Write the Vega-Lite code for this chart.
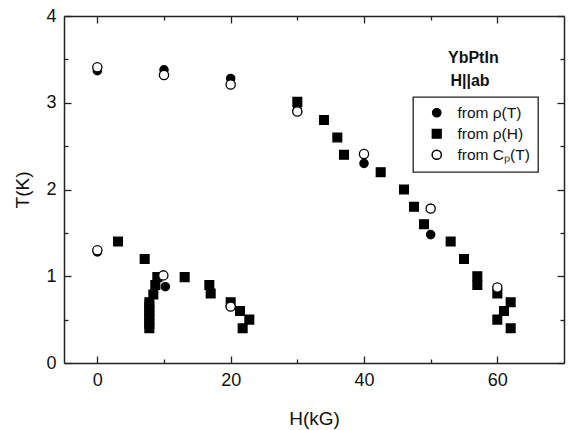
{
  "$schema": "https://vega.github.io/schema/vega-lite/v6.json",
  "width": 500,
  "height": 347,
  "autosize": {"type": "none"},
  "padding": {"left": 64, "top": 16, "right": 10, "bottom": 67},
  "background": "white",
  "config": {
    "view": {"stroke": null},
    "axis": {
      "domainColor": "#222", "domainWidth": 1.5,
      "tickColor": "#222", "tickWidth": 1.3,
      "labelFont": "Liberation Sans", "labelFontSize": 18, "labelColor": "#111",
      "titleFont": "Liberation Sans", "titleFontSize": 19, "titleFontWeight": "normal", "titleColor": "#111",
      "grid": false
    },
    "legend": {
      "strokeColor": "#222", "strokeWidth": 1.3, "fillColor": "white", "padding": 8, "cornerRadius": 0,
      "labelFont": "Liberation Sans", "labelFontSize": 15.5, "labelColor": "#111",
      "rowPadding": 4, "labelOffset": 13, "symbolOffset": 8
    }
  },
  "layer": [
    {
      "data": {"values": [
        {"H": 3.1, "T": 1.40, "s": "from ρ(H)"},
        {"H": 7.1, "T": 1.20, "s": "from ρ(H)"},
        {"H": 7.8, "T": 0.40, "s": "from ρ(H)"},
        {"H": 7.8, "T": 0.45, "s": "from ρ(H)"},
        {"H": 7.8, "T": 0.50, "s": "from ρ(H)"},
        {"H": 7.8, "T": 0.55, "s": "from ρ(H)"},
        {"H": 7.8, "T": 0.60, "s": "from ρ(H)"},
        {"H": 7.8, "T": 0.65, "s": "from ρ(H)"},
        {"H": 7.8, "T": 0.70, "s": "from ρ(H)"},
        {"H": 8.4, "T": 0.79, "s": "from ρ(H)"},
        {"H": 8.7, "T": 0.90, "s": "from ρ(H)"},
        {"H": 9.0, "T": 0.99, "s": "from ρ(H)"},
        {"H": 13.1, "T": 0.99, "s": "from ρ(H)"},
        {"H": 16.8, "T": 0.90, "s": "from ρ(H)"},
        {"H": 17.0, "T": 0.80, "s": "from ρ(H)"},
        {"H": 20.0, "T": 0.70, "s": "from ρ(H)"},
        {"H": 21.4, "T": 0.60, "s": "from ρ(H)"},
        {"H": 22.8, "T": 0.50, "s": "from ρ(H)"},
        {"H": 21.8, "T": 0.40, "s": "from ρ(H)"},
        {"H": 30.0, "T": 3.01, "s": "from ρ(H)"},
        {"H": 34.0, "T": 2.80, "s": "from ρ(H)"},
        {"H": 36.0, "T": 2.60, "s": "from ρ(H)"},
        {"H": 37.0, "T": 2.40, "s": "from ρ(H)"},
        {"H": 42.5, "T": 2.20, "s": "from ρ(H)"},
        {"H": 46.0, "T": 2.00, "s": "from ρ(H)"},
        {"H": 47.5, "T": 1.80, "s": "from ρ(H)"},
        {"H": 49.0, "T": 1.60, "s": "from ρ(H)"},
        {"H": 53.0, "T": 1.40, "s": "from ρ(H)"},
        {"H": 55.0, "T": 1.20, "s": "from ρ(H)"},
        {"H": 57.0, "T": 1.00, "s": "from ρ(H)"},
        {"H": 57.0, "T": 0.90, "s": "from ρ(H)"},
        {"H": 60.0, "T": 0.80, "s": "from ρ(H)"},
        {"H": 62.0, "T": 0.70, "s": "from ρ(H)"},
        {"H": 61.0, "T": 0.60, "s": "from ρ(H)"},
        {"H": 60.0, "T": 0.50, "s": "from ρ(H)"},
        {"H": 62.0, "T": 0.40, "s": "from ρ(H)"},
        {"H": 0, "T": 3.37, "s": "from ρ(T)"},
        {"H": 10, "T": 3.38, "s": "from ρ(T)"},
        {"H": 20, "T": 3.28, "s": "from ρ(T)"},
        {"H": 30, "T": 2.92, "s": "from ρ(T)"},
        {"H": 40, "T": 2.30, "s": "from ρ(T)"},
        {"H": 50, "T": 1.48, "s": "from ρ(T)"},
        {"H": 0, "T": 1.28, "s": "from ρ(T)"},
        {"H": 10.2, "T": 0.88, "s": "from ρ(T)"},
        {"H": 0, "T": 3.41, "s": "from Cₚ(T)"},
        {"H": 10, "T": 3.32, "s": "from Cₚ(T)"},
        {"H": 20, "T": 3.21, "s": "from Cₚ(T)"},
        {"H": 30, "T": 2.90, "s": "from Cₚ(T)"},
        {"H": 40, "T": 2.41, "s": "from Cₚ(T)"},
        {"H": 50, "T": 1.78, "s": "from Cₚ(T)"},
        {"H": 60, "T": 0.87, "s": "from Cₚ(T)"},
        {"H": 0, "T": 1.30, "s": "from Cₚ(T)"},
        {"H": 9.9, "T": 1.01, "s": "from Cₚ(T)"},
        {"H": 20, "T": 0.65, "s": "from Cₚ(T)"}
      ]},
      "mark": {"type": "point", "filled": true, "stroke": "black", "strokeWidth": 1.3, "opacity": 1},
      "encoding": {
        "x": {
          "field": "H", "type": "quantitative",
          "scale": {"domain": [-5, 70], "nice": false, "zero": false},
          "axis": {
            "orient": "bottom", "values": [0, 10, 20, 30, 40, 50, 60],
            "labelExpr": "datum.value % 20 === 0 ? format(datum.value, 'd') : ''",
            "tickSize": {"condition": {"test": "datum.value % 20 === 0", "value": -7}, "value": -4},
            "labelPadding": 15, "title": "H(kG)", "titlePadding": 20
          }
        },
        "y": {
          "field": "T", "type": "quantitative",
          "scale": {"domain": [0, 4], "nice": false},
          "axis": {
            "orient": "left", "values": [0, 0.5, 1, 1.5, 2, 2.5, 3, 3.5, 4],
            "labelExpr": "datum.value % 1 === 0 ? format(datum.value, 'd') : ''",
            "tickSize": {"condition": {"test": "datum.value % 1 === 0", "value": -7}, "value": -4},
            "labelPadding": 15, "title": "T(K)", "titlePadding": 13
          }
        },
        "shape": {
          "field": "s", "type": "nominal",
          "scale": {"domain": ["from ρ(T)", "from ρ(H)", "from Cₚ(T)"], "range": ["circle", "square", "circle"]},
          "legend": {"orient": "none", "legendX": 349, "legendY": 81, "title": null,
            "encode": {"symbols": {"update": {"stroke": {"value": "black"}, "strokeWidth": {"value": 1.2}}}}}
        },
        "fill": {
          "field": "s", "type": "nominal",
          "scale": {"domain": ["from ρ(T)", "from ρ(H)", "from Cₚ(T)"], "range": ["black", "black", "white"]},
          "legend": {"orient": "none", "legendX": 349, "legendY": 81, "title": null,
            "encode": {"symbols": {"update": {"stroke": {"value": "black"}, "strokeWidth": {"value": 1.2}}}}}
        },
        "size": {
          "field": "s", "type": "nominal",
          "scale": {"domain": ["from ρ(T)", "from ρ(H)", "from Cₚ(T)"], "range": [68, 85, 68]},
          "legend": {"orient": "none", "legendX": 349, "legendY": 81, "title": null,
            "encode": {"symbols": {"update": {"stroke": {"value": "black"}, "strokeWidth": {"value": 1.2}}}}}
        }
      }
    },
    {
      "data": {"values": [
        {"H": 56.4, "T": 3.46, "label": "YbPtIn"},
        {"H": 55.9, "T": 3.19, "label": "H||ab"}
      ]},
      "mark": {"type": "text", "font": "Liberation Sans", "fontSize": 16, "fontWeight": "bold", "align": "center", "baseline": "alphabetic", "color": "#111"},
      "encoding": {
        "text": {"field": "label", "type": "nominal"},
        "x": {
          "field": "H", "type": "quantitative",
          "axis": {
            "orient": "top", "values": [0, 10, 20, 30, 40, 50, 60], "labels": false, "title": null,
            "tickSize": {"condition": {"test": "datum.value % 20 === 0", "value": -7}, "value": -4}
          }
        },
        "y": {
          "field": "T", "type": "quantitative",
          "axis": {
            "orient": "right", "values": [0, 0.5, 1, 1.5, 2, 2.5, 3, 3.5, 4], "labels": false, "title": null,
            "tickSize": {"condition": {"test": "datum.value % 1 === 0", "value": -7}, "value": -4}
          }
        }
      }
    }
  ],
  "resolve": {"axis": {"x": "independent", "y": "independent"}}
}
